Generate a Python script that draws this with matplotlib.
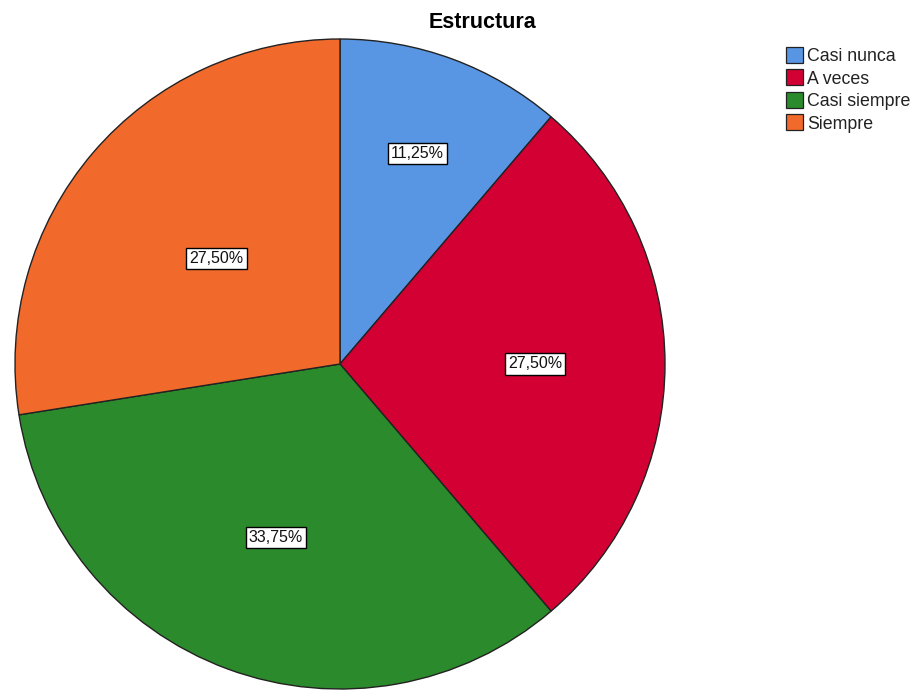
import numpy as np
import matplotlib
matplotlib.use("Agg")
import matplotlib.pyplot as plt
from matplotlib.patches import Patch

categories = ["Casi nunca", "A veces", "Casi siempre", "Siempre"]
percentages = [11.25, 27.50, 33.75, 27.50]
colors = ["#5895E3", "#D30033", "#2B8A2B", "#F26A2B"]
label_radius = [0.69, 0.60, 0.57, 0.50]

plt.rcParams["font.family"] = ["Liberation Sans", "DejaVu Sans"]

fig = plt.figure(figsize=(9.23, 6.91), dpi=100)
fig.patch.set_facecolor("white")

W, H = 923, 691
cx, cy, r = 340, 364, 325
ax = fig.add_axes([(cx - r) / W, (H - cy - r) / H, 2 * r / W, 2 * r / H])

wedges, _ = ax.pie(
    percentages,
    colors=colors,
    startangle=90,
    counterclock=False,
    radius=1.0,
    wedgeprops=dict(edgecolor="#222222", linewidth=1.0),
)
ax.set_xlim(-1.0, 1.0)
ax.set_ylim(-1.0, 1.0)
ax.set_aspect("equal")
ax.axis("off")

# percentage labels in white boxes along each slice's bisector
for w, pct, rad in zip(wedges, percentages, label_radius):
    mid = np.deg2rad((w.theta1 + w.theta2) / 2)
    ax.text(
        rad * np.cos(mid), rad * np.sin(mid),
        f"{pct:.2f}%".replace(".", ","),
        ha="center", va="center", fontsize=11.5, color="#111111",
        bbox=dict(boxstyle="square,pad=0.2", facecolor="white",
                  edgecolor="black", linewidth=1.0),
    )

fig.text(483 / W, 1 - 22 / H, "Estructura", ha="center", va="center",
         fontsize=15.5, fontweight="bold")

handles = [Patch(facecolor=c, edgecolor="#222222", linewidth=0.9) for c in colors]
fig.legend(
    handles, categories,
    loc="upper left", bbox_to_anchor=(786 / W, 1 - 47 / H),
    frameon=False, fontsize=12.8, labelcolor="#222222",
    handlelength=0.95, handleheight=1.0, handletextpad=0.25,
    labelspacing=0.25, borderpad=0.0, borderaxespad=0.0,
)

fig.savefig("out.png", dpi=100)
